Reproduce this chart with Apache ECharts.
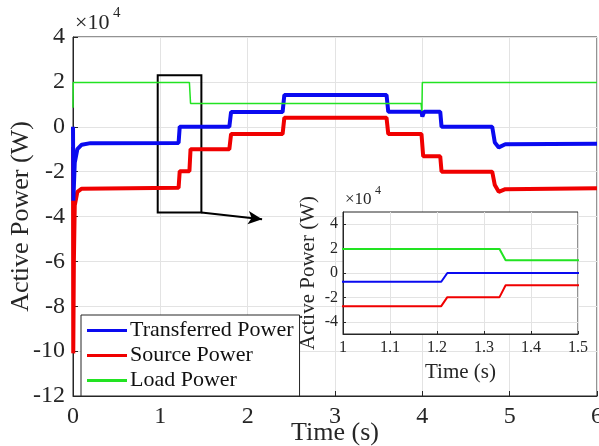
<!DOCTYPE html>
<html>
<head>
<meta charset="utf-8">
<script src="https://cdn.jsdelivr.net/npm/echarts@6/dist/echarts.min.js"></script>
<style>
  html, body { margin: 0; padding: 0; background: #fff; }
  #main { width: 599px; height: 446px; }
</style>
</head>
<body>
<div id="main"></div>
<script>
// values in units of 1e4 W, time in s
var transferredPower = [
    [0, 0], [0.004, -3.3], [0.02, -1.6], [0.05, -1.0], [0.1, -0.8], [0.2, -0.73],
    [1.209, -0.72], [1.222, 0], [1.79, 0], [1.81, 0.66], [2.40, 0.66], [2.42, 1.42],
    [3.59, 1.42], [3.61, 0.67], [3.99, 0.67], [4.0, 0.45], [4.02, 0.67], [4.205, 0.67],
    [4.22, 0], [4.80, 0], [4.83, -0.7], [4.875, -0.92], [4.95, -0.78], [6, -0.76]
];
var sourcePower = [
    [0, -0.9], [0.003, -10.1], [0.01, -6], [0.02, -3.5], [0.05, -2.9], [0.1, -2.76],
    [1.209, -2.72], [1.222, -1.98], [1.333, -1.98], [1.346, -1.0], [1.79, -1.0],
    [1.81, -0.32], [2.40, -0.32], [2.42, 0.4], [3.59, 0.4], [3.61, -0.32], [3.99, -0.32],
    [4.01, -1.32], [4.205, -1.32], [4.22, -2.0], [4.80, -2.0], [4.83, -2.6],
    [4.875, -2.9], [4.95, -2.78], [6, -2.74]
];
var loadPower = [
    [0, 0.85], [0.003, 1.97], [1.333, 1.97], [1.346, 1.04], [3.985, 1.04],
    [3.995, 0.7], [4.0, 1.97], [6, 1.97]
];
var seriesNames = ['Transferred Power', 'Source Power', 'Load Power'];
var seriesColors = ['#0a0af0', '#f00000', '#22e322'];
var mainYTicks = [-12, 4, 2];      // min, max, interval
var mainXTicks = [0, 6, 1];
var insetXTicks = [1, 1.5, 0.1];
var insetYLabels = [-4, -2, 0, 2, 4];
var zoomBox = [[0.97, 2.3], [1.47, -3.82]];
var zoomArrow = [[1.47, -3.82], [2.165, -4.12]];

var font = 'Liberation Serif';
var dark = '#262626';
var gridGray = '#e3e3e3';

var myChart = echarts.init(document.getElementById('main'), null, { renderer: 'canvas' });

function lineSeries(i, data, xi, width, z) {
    return {
        name: seriesNames[i],
        type: 'line',
        xAxisIndex: xi,
        yAxisIndex: xi,
        data: data,
        showSymbol: false,
        symbol: 'none',
        z: z,
        clip: true,
        lineStyle: { color: seriesColors[i], width: width },
        itemStyle: { color: seriesColors[i] }
    };
}

var series = [
    lineSeries(1, sourcePower, 0, 4, 2),
    lineSeries(0, transferredPower, 0, 4, 3),
    lineSeries(2, loadPower, 0, 1.5, 4),
    lineSeries(1, sourcePower, 1, 2, 12),
    lineSeries(0, transferredPower, 1, 2, 12),
    lineSeries(2, loadPower, 1, 2, 12)
];
// zoom rectangle and arrow on the main axes
series[2].markArea = {
    silent: true,
    itemStyle: { color: 'rgba(0,0,0,0)', borderColor: '#000', borderWidth: 2 },
    label: { show: false },
    data: [[{ coord: zoomBox[0] }, { coord: zoomBox[1] }]]
};
series[2].markLine = {
    silent: true,
    symbol: ['none', 'arrow'],
    symbolSize: [10, 14],
    label: { show: false },
    lineStyle: { color: '#000', width: 2, type: 'solid' },
    data: [[{ coord: zoomArrow[0] }, { coord: zoomArrow[1] }]]
};

myChart.setOption({
    animation: false,
    backgroundColor: '#fff',
    legend: {
        data: seriesNames,
        orient: 'vertical',
        left: 81,
        top: 315,
        icon: 'rect',
        itemWidth: 40,
        itemHeight: 3,
        itemGap: 0,
        padding: [3, 6, 3, 6],
        backgroundColor: '#fff',
        borderColor: dark,
        borderWidth: 1,
        borderRadius: 0,
        z: 6,
        textStyle: { fontFamily: font, fontSize: 22, color: '#111', lineHeight: 25, padding: [0, 0, 0, -2] }
    },
    grid: [
        { left: 73, top: 37, width: 524, height: 359, outerBoundsMode: 'none', containLabel: false,
          show: true, borderColor: dark, borderWidth: 1, backgroundColor: 'rgba(0,0,0,0)' },
        { left: 343, top: 212, width: 235, height: 122, outerBoundsMode: 'none', containLabel: false,
          show: true, borderColor: dark, borderWidth: 1, backgroundColor: '#fff', z: 10 }
    ],
    xAxis: [
        {
            type: 'value', gridIndex: 0,
            min: mainXTicks[0], max: mainXTicks[1], interval: mainXTicks[2],
            name: 'Time (s)', nameLocation: 'middle', nameGap: 24, nameMoveOverlap: false,
            nameTextStyle: { fontFamily: font, fontSize: 26, color: dark },
            axisLine: { onZero: false, lineStyle: { color: dark } },
            axisTick: { inside: true, length: 5, lineStyle: { color: dark } },
            axisLabel: { fontFamily: font, fontSize: 24, color: dark, margin: 9 },
            splitLine: { show: true, lineStyle: { color: gridGray } }
        },
        {
            type: 'value', gridIndex: 1, z: 11,
            min: insetXTicks[0], max: insetXTicks[1], interval: insetXTicks[2],
            name: 'Time (s)', nameLocation: 'middle', nameGap: 28, nameMoveOverlap: false,
            nameTextStyle: { fontFamily: font, fontSize: 21, color: dark },
            axisLine: { onZero: false, lineStyle: { color: dark } },
            axisTick: { inside: true, length: 3, lineStyle: { color: dark } },
            axisLabel: {
                fontFamily: font, fontSize: 16, color: dark, margin: 6,
                formatter: function (v) { return String(+v.toFixed(1)); }
            },
            splitLine: { show: true, lineStyle: { color: gridGray } }
        }
    ],
    yAxis: [
        {
            type: 'value', gridIndex: 0,
            min: mainYTicks[0], max: mainYTicks[1], interval: mainYTicks[2],
            name: 'Active Power (W)', nameLocation: 'middle', nameGap: 39, nameMoveOverlap: false,
            nameTextStyle: { fontFamily: font, fontSize: 26, color: dark },
            axisLine: { onZero: false, lineStyle: { color: dark } },
            axisTick: { inside: true, length: 5, lineStyle: { color: dark } },
            axisLabel: { fontFamily: font, fontSize: 24, color: dark, margin: 8 },
            splitLine: { show: true, lineStyle: { color: gridGray } }
        },
        {
            type: 'value', gridIndex: 1, z: 11,
            min: -5, max: 5,
            name: 'Active Power (W)', nameLocation: 'middle', nameGap: 24, nameMoveOverlap: false,
            nameTextStyle: { fontFamily: font, fontSize: 21, color: dark },
            axisLine: { onZero: false, lineStyle: { color: dark } },
            axisTick: { inside: true, length: 3, customValues: insetYLabels, lineStyle: { color: dark } },
            axisLabel: { fontFamily: font, fontSize: 16, color: dark, margin: 5, customValues: insetYLabels },
            splitLine: { show: true, lineStyle: { color: gridGray } }
        }
    ],
    graphic: [
        { type: 'text', left: 75, top: 12, z: 20, style: { text: '×10', font: '22px "Liberation Serif"', fill: dark } },
        { type: 'text', left: 113, top: 6, z: 20, style: { text: '4', font: '15px "Liberation Serif"', fill: dark } },
        { type: 'text', left: 345, top: 191, z: 20, style: { text: '×10', font: '17px "Liberation Serif"', fill: dark } },
        { type: 'text', left: 375, top: 185, z: 20, style: { text: '4', font: '12px "Liberation Serif"', fill: dark } }
    ],
    series: series
});
</script>
</body>
</html>
